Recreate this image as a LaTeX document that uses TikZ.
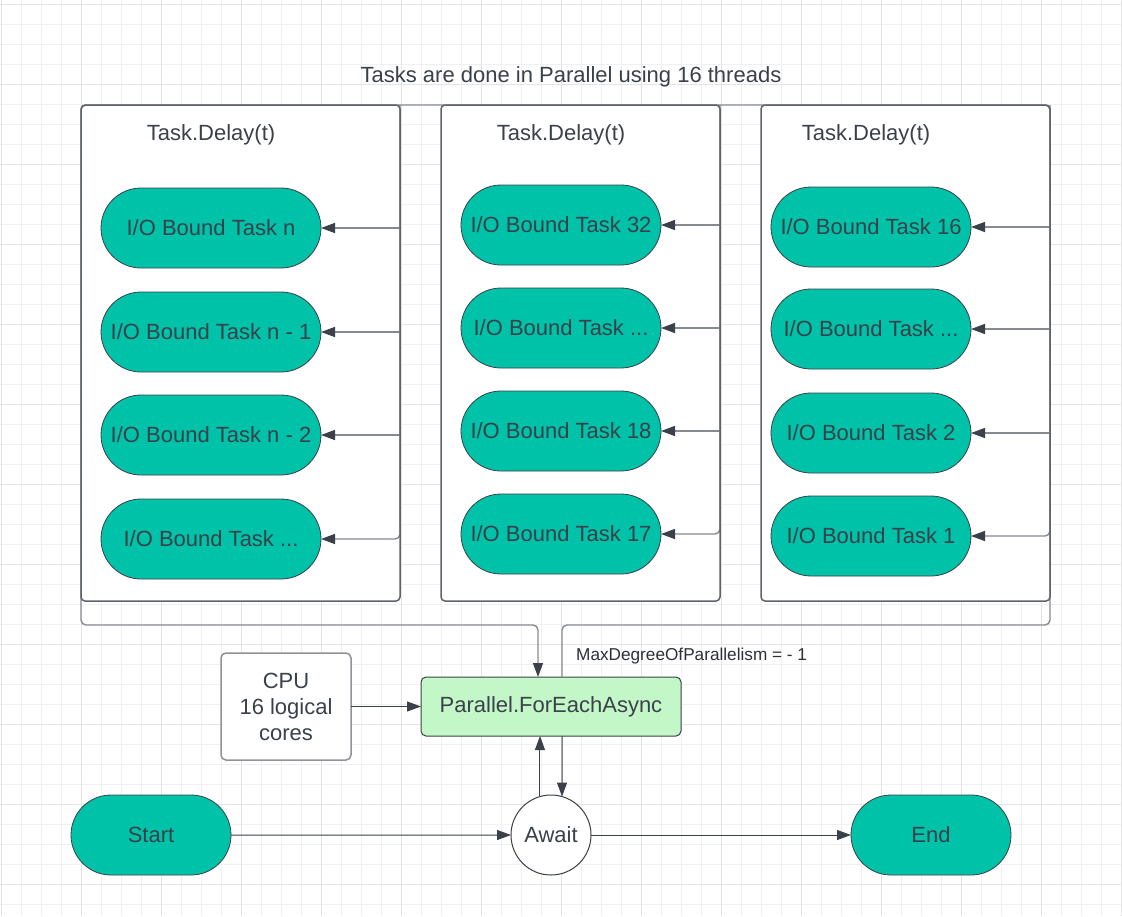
\documentclass[tikz,border=0pt]{standalone}
\usepackage{fontspec}
\setmainfont{Liberation Sans}
\usetikzlibrary{arrows.meta,shapes.misc,shapes.geometric}
\definecolor{txt}{HTML}{3A414A}
\definecolor{tealfill}{HTML}{00C2A8}
\definecolor{parfill}{HTML}{C3F7C8}
\definecolor{boxline}{HTML}{5F636B}
\definecolor{connline}{HTML}{868A91}
\definecolor{cpuline}{HTML}{8F9399}
\definecolor{gridminor}{HTML}{F0F0F0}
\definecolor{gridmajor}{HTML}{E4E4E4}
\definecolor{labeltxt}{HTML}{2D3136}
\tikzset{
  tip/.style={-{Triangle[length=14pt,width=10pt,color=txt]}},
  conn/.style={draw=connline,line width=1.4pt,rounded corners=5pt},
  arr/.style={draw=txt,line width=1pt,tip},
  container/.style={rectangle,fill=white,inner sep=0pt,outer sep=0pt},
  frameline/.style={draw=boxline,line width=1.5pt,rounded corners=4pt},
  task/.style={rounded rectangle,fill=tealfill,draw=txt,line width=0.8pt,minimum height=80pt,inner sep=0pt,outer sep=0pt},
  wtask/.style={task,minimum width=220pt},
  ntask/.style={task,minimum width=200pt},
}
\begin{document}
\begin{tikzpicture}[x=1pt,y=-1pt,font=\fontsize{22}{26}\selectfont,text=txt]
\useasboundingbox[fill=white] (0,0) rectangle (1122,916);
% grid
\foreach \i in {0,...,56} {\draw[gridminor,line width=1pt] (1.7+20*\i,0) -- (1.7+20*\i,916);}
\foreach \i in {0,...,45} {\draw[gridminor,line width=1pt] (0,4+20*\i) -- (1122,4+20*\i);}
\foreach \i in {0,...,14} {\draw[gridmajor,line width=1pt] (1.7+80*\i,0) -- (1.7+80*\i,916);}
\foreach \i in {0,...,11} {\draw[gridmajor,line width=1pt] (0,4+80*\i) -- (1122,4+80*\i);}

% title
\node (title) at (571,77) {Tasks are done in Parallel using 16 threads};

% containers (fill)
\node[container,minimum width=319pt,minimum height=496pt] (c1) at (240.5,353) {};
\node[container,minimum width=279pt,minimum height=496pt] (c2) at (580.5,353) {};
\node[container,minimum width=289pt,minimum height=496pt] (c3) at (905.5,353) {};

% bottom nodes
\node[rectangle,fill=parfill,draw=txt,line width=1pt,rounded corners=5pt,minimum width=260pt,minimum height=59pt,inner sep=0pt,outer sep=0pt] (par) at (551,706.5) {Parallel.ForEachAsync};
\node[rectangle,fill=white,draw=cpuline,line width=1.5pt,rounded corners=5pt,minimum width=130pt,minimum height=107pt,inner sep=0pt,outer sep=0pt,align=center] (cpu) at (286,706.5) {CPU\\16 logical\\cores};
\node[circle,fill=white,draw=txt,line width=1pt,minimum size=80pt,inner sep=0pt,outer sep=0pt] (await) at (551,835) {Await};
\node[task,minimum width=160pt] (start) at (151,835) {Start};
\node[task,minimum width=160pt] (end) at (931,835) {End};

\coordinate (bus) at (0,625);

% main loop connector
\draw[conn,tip] ([xshift=11pt]par.north) |- (c3.east |- bus) -- (c3.north east) -- (c1.north west) -- (c1.west |- bus) -| ([xshift=-13pt]par.north);

% tasks
\node[wtask] (t11) at (211,228) {I/O Bound Task n};
\node[wtask] (t12) at (211,332) {I/O Bound Task n - 1};
\node[wtask] (t13) at (211,435) {I/O Bound Task n - 2};
\node[wtask] (t14) at (211,539) {I/O Bound Task ...};
\node[ntask] (t21) at (561,225) {I/O Bound Task 32};
\node[ntask] (t22) at (561,328) {I/O Bound Task ...};
\node[ntask] (t23) at (561,431) {I/O Bound Task 18};
\node[ntask] (t24) at (561,534) {I/O Bound Task 17};
\node[ntask] (t31) at (871,227) {I/O Bound Task 16};
\node[ntask] (t32) at (871,329) {I/O Bound Task ...};
\node[ntask] (t33) at (871,433) {I/O Bound Task 2};
\node[ntask] (t34) at (871,536) {I/O Bound Task 1};

% branch connectors into tasks
\draw[conn,tip] (c1.north east) |- (t14.east);
\draw[conn,tip] (c2.north east) |- (t24.east);
\draw[conn,tip] (c3.north east) |- (t34.east);
\foreach \t in {t11,t12,t13} {\draw[conn,tip] (c1.east |- \t) -- (\t.east);}
\foreach \t in {t21,t22,t23} {\draw[conn,tip] (c2.east |- \t) -- (\t.east);}
\foreach \t in {t31,t32,t33} {\draw[conn,tip] (c3.east |- \t) -- (\t.east);}

% container borders on top
\draw[frameline] (c1.north west) rectangle (c1.south east);
\draw[frameline] (c2.north west) rectangle (c2.south east);
\draw[frameline] (c3.north west) rectangle (c3.south east);

% container labels
\node (d1) at (211,135) {Task.Delay(t)};
\node (d2) at (561,135) {Task.Delay(t)};
\node (d3) at (866,135) {Task.Delay(t)};

% label
\node[anchor=west,font=\fontsize{17.2}{20}\selectfont,text=labeltxt,inner sep=0pt] (maxdeg) at (576,656) {MaxDegreeOfParallelism = - 1};

% bottom arrows
\draw[arr] (cpu) -- (par);
\draw[arr] (await.106) -- (await.106 |- par.south);
\draw[arr] ([xshift=11pt]par.south) -- (await.74);
\draw[arr] (start) -- (await);
\draw[arr] (await) -- (end);
\end{tikzpicture}
\end{document}
